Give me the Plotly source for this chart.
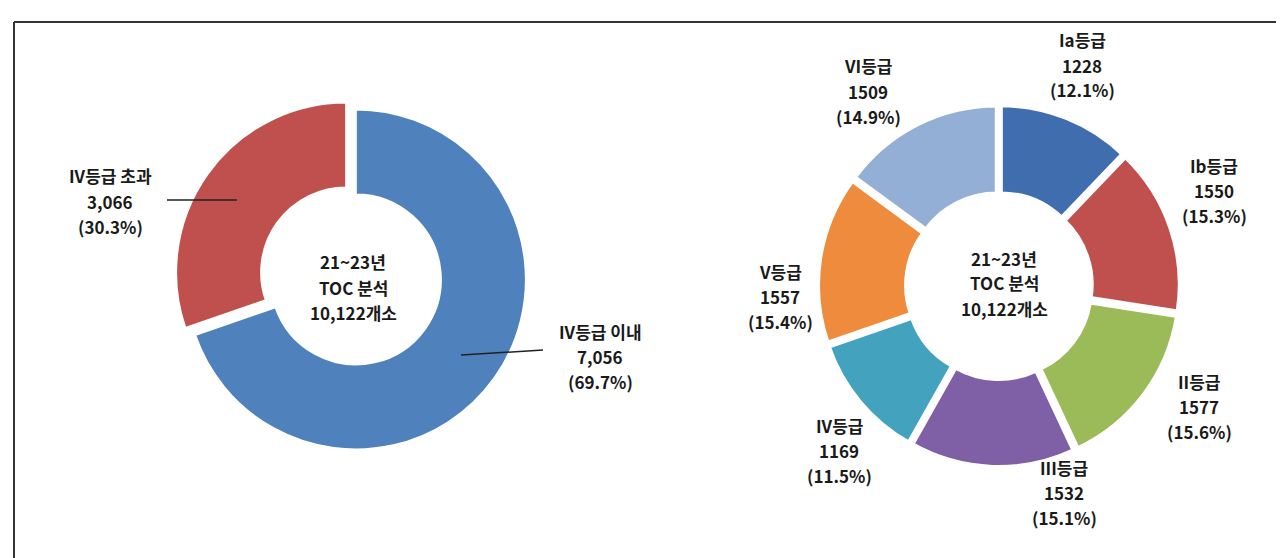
import plotly.graph_objects as go

W, H = 1284, 558

# ---- data ----
left_labels = ["IV등급 이내", "IV등급 초과"]
left_values = [7056, 3066]
left_colors = ["#4F81BD", "#C0504D"]

right_labels = ["Ia등급", "Ib등급", "II등급", "III등급", "IV등급", "V등급", "VI등급"]
right_values = [1228, 1550, 1577, 1532, 1169, 1557, 1509]
right_colors = ["#3F6DAD", "#C0504D", "#9BBB59", "#7F5FA6", "#43A3BF", "#EE8B3C", "#93AFD6"]

center_lines = ["21~23년", "TOC 분석"]

# ---- layout helpers (pixel -> paper) ----
def px(x):
    return x / W

def py(y):
    return 1 - y / H

FONT = dict(family="Noto Sans CJK KR, Noto Sans, sans-serif", size=17, color="#1a1a1a", weight="bold")
LINE_GAP = 25

fig = go.Figure()

# left donut: centre (343, 268)
lcx, lcy, lhalf = 343, 268, 176
fig.add_trace(go.Pie(
    labels=left_labels, values=left_values, sort=False, direction="clockwise", rotation=0,
    hole=0.5, pull=[0.035, 0.035], textinfo="none", hoverinfo="skip",
    marker=dict(colors=left_colors, line=dict(color="white", width=2)),
    domain=dict(x=[px(lcx - lhalf), px(lcx + lhalf)], y=[py(lcy + lhalf), py(lcy - lhalf)]),
    showlegend=False,
))

# right donut: centre (991, 278)
rcx, rcy, rhalf = 991, 278, 181
fig.add_trace(go.Pie(
    labels=right_labels, values=right_values, sort=False, direction="clockwise", rotation=0,
    hole=0.5, pull=[0.028] * len(right_values), textinfo="none", hoverinfo="skip",
    marker=dict(colors=right_colors, line=dict(color="white", width=4)),
    domain=dict(x=[px(rcx - rhalf), px(rcx + rhalf)], y=[py(rcy + rhalf), py(rcy - rhalf)]),
    showlegend=False,
))

total_l = sum(left_values)
total_r = sum(right_values)

annotations = []

def add_block(lines, x, ymid):
    # ymid = centre of the middle line, in px
    n = len(lines)
    for i, t in enumerate(lines):
        y = ymid + (i - (n - 1) / 2) * LINE_GAP
        annotations.append(dict(x=px(x), y=py(y), xref="paper", yref="paper", text=t,
                                showarrow=False, font=FONT, xanchor="center", yanchor="middle"))

# left labels
left_pos = {"IV등급 이내": (592, 348), "IV등급 초과": (102, 193)}
for n, v in zip(left_labels, left_values):
    x, y = left_pos[n]
    add_block([n, f"{v:,}", f"({v / total_l * 100:.1f}%)"], x, y)

right_pos = {
    "Ia등급": (1074, 57), "Ib등급": (1206, 182), "II등급": (1191, 398), "III등급": (1056, 484),
    "IV등급": (831, 442), "V등급": (772, 288), "VI등급": (860, 83),
}
for n, v in zip(right_labels, right_values):
    x, y = right_pos[n]
    add_block([n, f"{v}", f"({v / total_r * 100:.1f}%)"], x, y)

# centre texts
add_block(center_lines + [f"{total_l:,}개소"], 345, 279)
add_block(center_lines + [f"{total_r:,}개소"], 996, 275)

shapes = [
    # frame (left, top, right)
    dict(type="line", xref="paper", yref="paper", x0=px(6), x1=px(6), y0=0, y1=py(14), line=dict(color="#333", width=2)),
    dict(type="line", xref="paper", yref="paper", x0=px(6), x1=px(1279), y0=py(14), y1=py(14), line=dict(color="#333", width=2)),
    dict(type="line", xref="paper", yref="paper", x0=px(1279), x1=px(1279), y0=0, y1=py(14), line=dict(color="#333", width=2)),
    # leader lines
    dict(type="line", xref="paper", yref="paper", x0=px(159), x1=px(229), y0=py(192), y1=py(192), line=dict(color="#222", width=1.5)),
    dict(type="line", xref="paper", yref="paper", x0=px(453), x1=px(535), y0=py(347), y1=py(342), line=dict(color="#222", width=1.5)),
]

fig.update_layout(
    width=W, height=H, margin=dict(l=0, r=0, t=0, b=0),
    paper_bgcolor="white", plot_bgcolor="white",
    annotations=annotations, shapes=shapes,
)

fig.write_html("out.html")
